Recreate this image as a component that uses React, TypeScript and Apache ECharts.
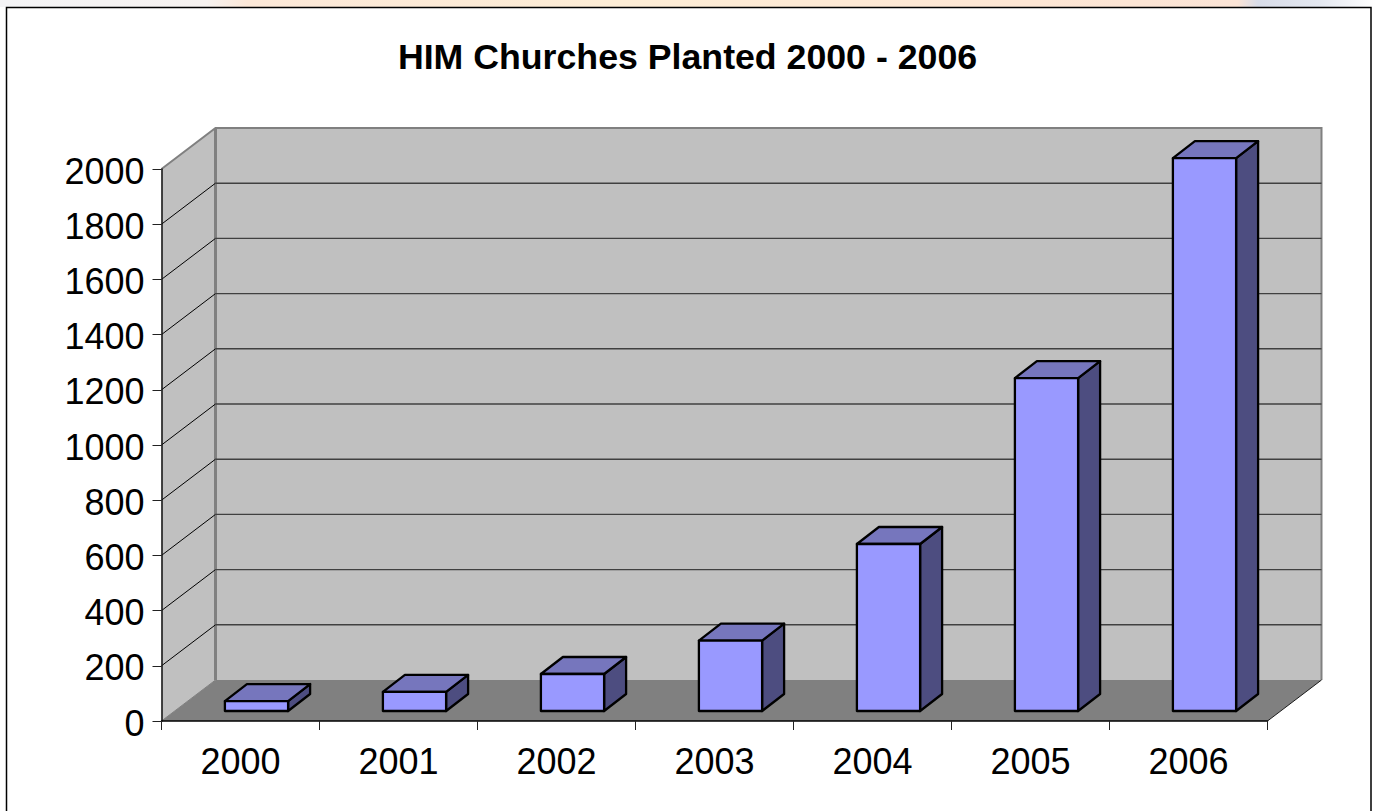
import React, { useEffect, useRef } from "react";
import * as echarts from "echarts";

const years = ["2000", "2001", "2002", "2003", "2004", "2005", "2006"];
const churches = [36, 69, 134, 255, 605, 1206, 2003];
const yTicks = [0, 200, 400, 600, 800, 1000, 1200, 1400, 1600, 1800, 2000];

const FONT = "'Liberation Sans', Arial, sans-serif";
const WALL_DX = 54;
const WALL_DY = -41;
const BAR_DX = 22;
const BAR_DY = -17;
const BASE_DX = 16;
const BASE_DY = -10;

const renderWalls = (params: any, api: any) => {
  const v = api.value(0);
  const [, y] = api.coord([0, v]);
  const cs = params.coordSys;
  const x0 = cs.x;
  const x1 = cs.x + cs.width;
  const children: any[] = [];
  if (v === 0) {
    const top = cs.y;
    children.push(
      { type: "polygon", shape: { points: [[x0, y], [x0 + WALL_DX, y + WALL_DY], [x0 + WALL_DX, top + WALL_DY], [x0, top]] }, style: { fill: "#C0C0C0" } },
      { type: "rect", shape: { x: x0 + WALL_DX, y: top + WALL_DY, width: x1 - x0, height: y - top }, style: { fill: "#C0C0C0" } },
      { type: "polygon", shape: { points: [[x0, y], [x1, y], [x1 + WALL_DX, y + WALL_DY], [x0 + WALL_DX, y + WALL_DY]] }, style: { fill: "#808080" } },
      { type: "polyline", shape: { points: [[x0, top], [x0 + WALL_DX, top + WALL_DY], [x1 + WALL_DX, top + WALL_DY], [x1 + WALL_DX, y + WALL_DY]] }, style: { fill: "none", stroke: "#808080", lineWidth: 2 } },
      { type: "line", shape: { x1: x0 + WALL_DX, y1: top + WALL_DY, x2: x0 + WALL_DX, y2: y + WALL_DY }, style: { stroke: "#808080", lineWidth: 3 } },
      { type: "line", shape: { x1: x1, y1: y, x2: x1 + WALL_DX, y2: y + WALL_DY }, style: { stroke: "#1a1a1a", lineWidth: 1 } },
      { type: "line", shape: { x1: x0, y1: y, x2: x0 + WALL_DX, y2: y + WALL_DY }, style: { stroke: "#808080", lineWidth: 1 } }
    );
  } else if (v < yTicks[yTicks.length - 1]) {
    children.push(
      { type: "line", shape: { x1: x0, y1: y, x2: x0 + WALL_DX, y2: y + WALL_DY }, style: { stroke: "#000", lineWidth: 1 } },
      { type: "line", shape: { x1: x0 + WALL_DX, y1: y + WALL_DY, x2: x1 + WALL_DX, y2: y + WALL_DY }, style: { stroke: "#404040", lineWidth: 1.4 } }
    );
  }
  return { type: "group", children };
};

const renderBar = (_params: any, api: any) => {
  const idx = api.value(0);
  const [cx, yTop0] = api.coord([idx, api.value(1)]);
  const [, yBase0] = api.coord([idx, 0]);
  const w = api.size([1, 0])[0] * 0.4;
  const xl = cx - w / 2 + BASE_DX;
  const xr = xl + w;
  const yb = yBase0 + BASE_DY;
  const yt = yTop0 + BASE_DY;
  const stroke = { stroke: "#000", lineWidth: 2.3, lineJoin: "round" };
  return {
    type: "group",
    children: [
      { type: "polygon", shape: { points: [[xr, yt], [xr + BAR_DX, yt + BAR_DY], [xr + BAR_DX, yb + BAR_DY], [xr, yb]] }, style: { fill: "#4D4D80", ...stroke } },
      { type: "polygon", shape: { points: [[xl, yt], [xl + BAR_DX, yt + BAR_DY], [xr + BAR_DX, yt + BAR_DY], [xr, yt]] }, style: { fill: "#7676BD", ...stroke } },
      { type: "rect", shape: { x: xl, y: yt, width: w, height: yb - yt }, style: { fill: "#9999FF", ...stroke } },
    ],
  };
};

export default function App() {
  const ref = useRef<HTMLDivElement>(null);
  useEffect(() => {
    const chart = echarts.init(ref.current!, undefined, { renderer: "svg" });
    chart.setOption({
      animation: false,
      backgroundColor: "#ffffff",
      title: {
        text: "HIM Churches Planted 2000 - 2006",
        left: "center",
        top: 34,
        textStyle: { fontFamily: FONT, fontSize: 35.7, fontWeight: "bold", color: "#000" },
      },
      graphic: [
        {
          type: "rect",
          z: -2,
          shape: { x: 0, y: 0, width: 1375, height: 7 },
          style: {
            fill: new echarts.graphic.LinearGradient(0, 0, 1, 0, [
              { offset: 0, color: "#F4F4F6" },
              { offset: 0.15, color: "#F6F2F0" },
              { offset: 0.18, color: "#FCE8D8" },
              { offset: 0.45, color: "#FDEDD6" },
              { offset: 0.75, color: "#FDE6D4" },
              { offset: 0.9, color: "#FBE4D6" },
              { offset: 0.915, color: "#D8DCE8" },
              { offset: 0.96, color: "#E4E8F0" },
              { offset: 1, color: "#FFFFFF" },
            ]),
          },
        },
        { type: "rect", z: -1, shape: { x: 6.5, y: 7.5, width: 1364.5, height: 820 }, style: { fill: "#fff", stroke: "#000", lineWidth: 1.5 } },
      ],
      grid: { left: 161.5, top: 169, width: 1106, height: 552 },
      xAxis: {
        type: "category",
        data: years,
        boundaryGap: true,
        axisLine: { show: true, lineStyle: { color: "#000", width: 1.5 } },
        axisTick: { show: true, length: 9, lineStyle: { color: "#222", width: 1 } },
        axisLabel: { fontFamily: FONT, fontSize: 36, color: "#000", margin: 22 },
        z: 5,
      },
      yAxis: {
        type: "value",
        min: 0,
        max: 2000,
        interval: 200,
        splitLine: { show: false },
        axisLine: { show: true, lineStyle: { color: "#111", width: 1.5 } },
        axisTick: { show: true, length: 9, lineStyle: { color: "#222", width: 1 } },
        axisLabel: {
          fontFamily: FONT,
          fontSize: 36,
          color: "#000",
          margin: 17,
          verticalAlign: "top",
          padding: [-16, 0, 0, 0],
          formatter: (v: number) => String(v),
        },
        z: 5,
      },
      series: [
        {
          type: "custom",
          name: "walls",
          coordinateSystem: "cartesian2d",
          renderItem: renderWalls,
          data: yTicks.map((t) => [t]),
          encode: { y: 0 },
          clip: false,
          silent: true,
          z: 1,
        },
        {
          type: "custom",
          name: "HIM Churches Planted",
          coordinateSystem: "cartesian2d",
          renderItem: renderBar,
          data: churches.map((v, i) => [i, v]),
          encode: { x: 0, y: 1 },
          clip: false,
          z: 2,
        },
      ],
    });
    return () => chart.dispose();
  }, []);
  return <div ref={ref} style={{ position: "absolute", left: 0, top: 0, width: 1375, height: 811, overflow: "hidden" }} />;
}
